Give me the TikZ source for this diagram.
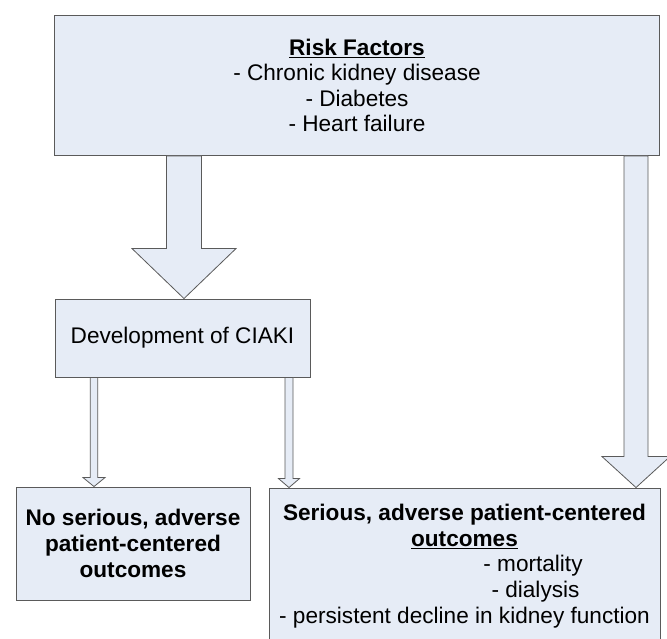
\documentclass[tikz,border=0pt]{standalone}
\usepackage{fontspec}
\setmainfont{Liberation Sans}
\usetikzlibrary{calc}
\definecolor{boxfill}{RGB}{230,236,246}
\definecolor{boxline}{RGB}{90,90,90}
% from, to, shaft half width, head half width, head length
\newcommand{\fatarrow}[5]{%
  \draw[blockarrow] ($(#1)+(-#3,0)$) -- ($(#2)+(-#3,-#5)$) -- ($(#2)+(-#4,-#5)$) -- (#2)
    -- ($(#2)+(#4,-#5)$) -- ($(#2)+(#3,-#5)$) -- ($(#1)+(#3,0)$) -- cycle;}

\begin{document}
\begin{tikzpicture}[x=1pt, y=-1pt,
    box/.style={rectangle, draw=boxline, fill=boxfill, line width=0.9pt, align=center, inner sep=4pt, font={\fontsize{22.6}{25.6}\selectfont}},
    blockarrow/.style={draw=boxline, fill=boxfill, line width=0.8pt, line join=miter}]
                \useasboundingbox (0,0) rectangle (667,639);

                \node[box, minimum width=605pt, minimum height=140pt] (risk) at (357,85.5) {\textbf{\underline{Risk Factors}}\\- Chronic kidney disease\\- Diabetes\\- Heart failure};
                \node[box, minimum width=255pt, minimum height=78pt] (ciaki) at (182.5,338) {Development of CIAKI};
                \node[box, minimum width=234pt, minimum height=113pt, font={\fontsize{22.6}{25.6}\selectfont\bfseries}] (noadverse) at (133,543.5) {No serious, adverse\\patient-centered\\outcomes};
                \node[box, minimum width=391pt, minimum height=156pt] (adverse) at (464.5,566) {\textbf{Serious, adverse patient-centered}\\\textbf{\underline{outcomes}}\\\hspace*{137pt}- mortality\\\hspace*{142pt}- dialysis\\- persistent decline in kidney function};

                \coordinate (c1) at (184,0);
                \coordinate (c2) at (636,0);
                \coordinate (c3) at (94,0);
                \coordinate (c4) at (289,0);

                \fatarrow{risk.south -| c1}{ciaki.north -| c1}{17.5}{52}{50}
                \fatarrow{risk.south -| c2}{adverse.north -| c2}{12}{34}{31}
                \fatarrow{ciaki.south -| c3}{noadverse.north -| c3}{3.7}{11}{9}
                \fatarrow{ciaki.south -| c4}{adverse.north -| c4}{4}{10.5}{9}
            \end{tikzpicture}
\end{document}
